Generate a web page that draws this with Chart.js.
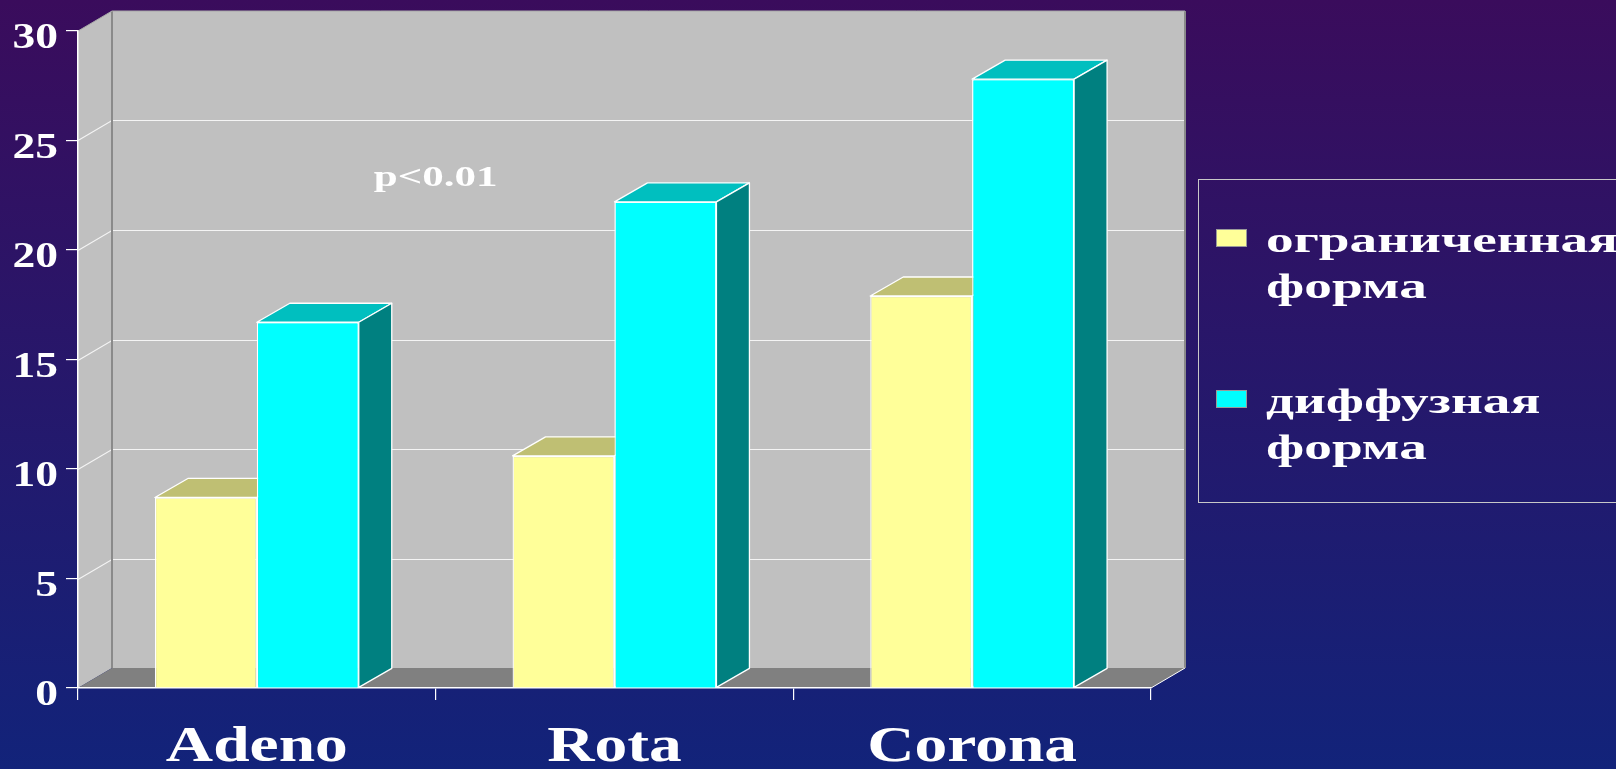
<!DOCTYPE html>
<html><head><meta charset="utf-8">
<script src="https://cdn.jsdelivr.net/npm/chart.js@4.4.0/dist/chart.umd.min.js"></script>
<style>html,body{margin:0;padding:0;overflow:hidden;background:#1e1a6c;}canvas{display:block;}</style>
</head><body>
<canvas id="c" width="1616" height="769"></canvas>
<script>
// ---- data ----
const categories = ['Adeno', 'Rota', 'Corona'];
const seriesNames = ['ограниченная форма', 'диффузная форма'];
const limitedForm = [8.7, 10.6, 17.9];
const diffuseForm = [16.7, 22.2, 27.8];
const yTickValues = [0, 5, 10, 15, 20, 25, 30];
const annotationText = 'p<0.01';

// ---- styling / layout ----
const FONT = '"Liberation Serif", "Times New Roman", serif';
const WALL_DX = 34, WALL_DY = 20;
const BAR_DX = 33, BAR_DY = 19;
const frontColors = ['#ffff99', '#00ffff'];
const topColors = ['#bfbf73', '#00bfbf'];
const sideColors = ['#8f8f56', '#008080'];
const annPos = {cat: 0.5, val: 22.9};

function wideText(ctx, text, x, y, sx) {
  ctx.save();
  ctx.translate(x, y);
  ctx.scale(sx, 1);
  ctx.fillText(text, 0, 0);
  ctx.restore();
}

function stretchScaleLabels(scale, sx) {
  if (scale._stretched) return;
  const orig = scale.drawLabels;
  scale.drawLabels = function (area) {
    const c = this.ctx;
    const proto = Object.getPrototypeOf(c).fillText;
    c.fillText = function (t, x, y) {
      this.save(); this.scale(sx, 1); proto.call(this, t, x / sx, y); this.restore();
    };
    try { orig.call(this, area); } finally { delete c.fillText; }
  };
  scale._stretched = true;
}

const background3d = {
  id: 'background3d',
  beforeDraw(chart) {
    const {ctx, chartArea: a, scales: {x, y}} = chart;
    const L = a.left, R = a.right, T = a.top, B = a.bottom;
    ctx.save();
    const g = ctx.createLinearGradient(0, 0, 0, chart.height);
    g.addColorStop(0, '#3a0c5c');
    g.addColorStop(1, '#12237a');
    ctx.fillStyle = g;
    ctx.fillRect(0, 0, chart.width, chart.height);
    // back wall
    ctx.fillStyle = '#c0c0c0';
    ctx.fillRect(L + WALL_DX, T - WALL_DY, R - L, B - T);
    // left wall
    ctx.beginPath();
    ctx.moveTo(L, B); ctx.lineTo(L, T); ctx.lineTo(L + WALL_DX, T - WALL_DY); ctx.lineTo(L + WALL_DX, B - WALL_DY);
    ctx.closePath(); ctx.fill();
    // floor
    ctx.fillStyle = '#808080';
    ctx.beginPath();
    ctx.moveTo(L, B); ctx.lineTo(R, B); ctx.lineTo(R + WALL_DX, B - WALL_DY); ctx.lineTo(L + WALL_DX, B - WALL_DY);
    ctx.closePath(); ctx.fill();
    // gridlines
    ctx.lineWidth = 1.2;
    ctx.strokeStyle = '#f4f4f4';
    y.ticks.forEach(t => {
      if (t.value <= y.min || t.value >= y.max) return;
      const py = Math.round(y.getPixelForValue(t.value)) + 0.5;
      ctx.beginPath();
      ctx.moveTo(L, py); ctx.lineTo(L + WALL_DX, py - WALL_DY); ctx.lineTo(R + WALL_DX, py - WALL_DY);
      ctx.stroke();
    });
    // edges
    ctx.strokeStyle = '#8a8a8a';
    ctx.lineWidth = 2;
    ctx.beginPath();
    ctx.moveTo(L + WALL_DX, B - WALL_DY); ctx.lineTo(L + WALL_DX, T - WALL_DY);
    ctx.moveTo(R + WALL_DX, B - WALL_DY); ctx.lineTo(R + WALL_DX, T - WALL_DY);
    ctx.stroke();
    ctx.lineWidth = 1;
    ctx.strokeStyle = '#a8a8a8';
    ctx.beginPath();
    ctx.moveTo(L, T); ctx.lineTo(L + WALL_DX, T - WALL_DY); ctx.lineTo(R + WALL_DX, T - WALL_DY);
    ctx.stroke();
    ctx.strokeStyle = '#ffffff';
    ctx.beginPath();
    ctx.moveTo(R, B); ctx.lineTo(R + WALL_DX, B - WALL_DY);
    ctx.stroke();
    // annotation
    ctx.fillStyle = '#ffffff';
    ctx.font = 'bold 29px ' + FONT;
    ctx.textAlign = 'center';
    ctx.textBaseline = 'alphabetic';
    const sxA = 124 / ctx.measureText(annotationText).width;
    wideText(ctx, annotationText, x.getPixelForValue(annPos.cat), y.getPixelForValue(annPos.val), sxA);
    ctx.restore();

    stretchScaleLabels(chart.scales.x, 1.31);
    stretchScaleLabels(chart.scales.y, 1.3);
  }
};

function drawFaces(ctx, bar, i) {
  const p = bar.getProps(['x', 'y', 'base', 'width'], true);
  const l = p.x - p.width / 2, r = p.x + p.width / 2, t = p.y, b = p.base;
  ctx.fillStyle = topColors[i];
  ctx.beginPath();
  ctx.moveTo(l, t); ctx.lineTo(l + BAR_DX, t - BAR_DY); ctx.lineTo(r + BAR_DX, t - BAR_DY); ctx.lineTo(r, t);
  ctx.closePath(); ctx.fill(); ctx.stroke();
  ctx.fillStyle = sideColors[i];
  ctx.beginPath();
  ctx.moveTo(r, t); ctx.lineTo(r + BAR_DX, t - BAR_DY); ctx.lineTo(r + BAR_DX, b - BAR_DY); ctx.lineTo(r, b);
  ctx.closePath(); ctx.fill(); ctx.stroke();
}

const bars3d = {
  id: 'bars3d',
  afterDatasetsDraw(chart) {
    const ctx = chart.ctx;
    const metas = chart.data.datasets.map((d, i) => chart.getDatasetMeta(i));
    metas.forEach((meta, i) => {
      if (i > 0) meta.data.forEach(bar => bar.draw(ctx));
      ctx.save();
      ctx.strokeStyle = '#ffffff';
      ctx.lineWidth = 1.3;
      ctx.lineJoin = 'round';
      meta.data.forEach(bar => drawFaces(ctx, bar, i));
      ctx.restore();
    });
  }
};

const legendBox = {
  id: 'legendBox',
  afterDraw(chart) {
    const ctx = chart.ctx;
    ctx.save();
    ctx.strokeStyle = '#c8c8c8';
    ctx.lineWidth = 1;
    ctx.strokeRect(1198.5, 179.5, 500, 323);
    ctx.font = 'bold 36px ' + FONT;
    ctx.textAlign = 'left';
    ctx.textBaseline = 'alphabetic';
    const sx = 352 / ctx.measureText('ограниченная').width;
    const firstBaselines = [252, 413];
    chart.data.datasets.forEach((ds, i) => {
      const yb = firstBaselines[i];
      ctx.fillStyle = ds.backgroundColor;
      ctx.fillRect(1216, yb - 23, 31, 18);
      ctx.strokeStyle = '#9a9a9a';
      ctx.strokeRect(1216.5, yb - 22.5, 30, 17);
      ctx.fillStyle = '#ffffff';
      ds.label.split(' ').forEach((line, k) => wideText(ctx, line, 1266, yb + k * 46, sx));
    });
    ctx.restore();
  }
};

new Chart(document.getElementById('c'), {
  type: 'bar',
  data: {
    labels: categories,
    datasets: [
      {label: seriesNames[0], data: limitedForm, backgroundColor: frontColors[0], borderColor: '#ffffff', borderWidth: 1.3},
      {label: seriesNames[1], data: diffuseForm, backgroundColor: frontColors[1], borderColor: '#ffffff', borderWidth: 1.3}
    ]
  },
  options: {
    responsive: false,
    devicePixelRatio: 1,
    animation: false,
    events: [],
    datasets: {bar: {categoryPercentage: 0.57, barPercentage: 1.0}},
    layout: {padding: {top: 31, right: 465, left: 0, bottom: 0}},
    plugins: {legend: {display: false}, tooltip: {enabled: false}},
    scales: {
      x: {
        grid: {offset: true, drawOnChartArea: false, color: '#ffffff', tickLength: 12, lineWidth: 1.2},
        border: {color: '#ffffff', width: 1.5},
        ticks: {color: '#ffffff', font: {family: FONT, size: 50, weight: 'bold'}, padding: 18, maxRotation: 0, autoSkip: false},
        afterFit(s) { s.height = 81; }
      },
      y: {
        min: 0, max: 30,
        afterBuildTicks(s) { s.ticks = yTickValues.map(v => ({value: v})); },
        grid: {drawOnChartArea: false, color: '#ffffff', tickLength: 12, lineWidth: 1.2},
        border: {color: '#ffffff', width: 1.5},
        ticks: {color: '#ffffff', font: {family: FONT, size: 35, weight: 'bold'}, padding: 8, labelOffset: 8, autoSkip: false},
        afterFit(s) { s.width = 78; }
      }
    }
  },
  plugins: [background3d, bars3d, legendBox]
});
</script>
</body></html>
